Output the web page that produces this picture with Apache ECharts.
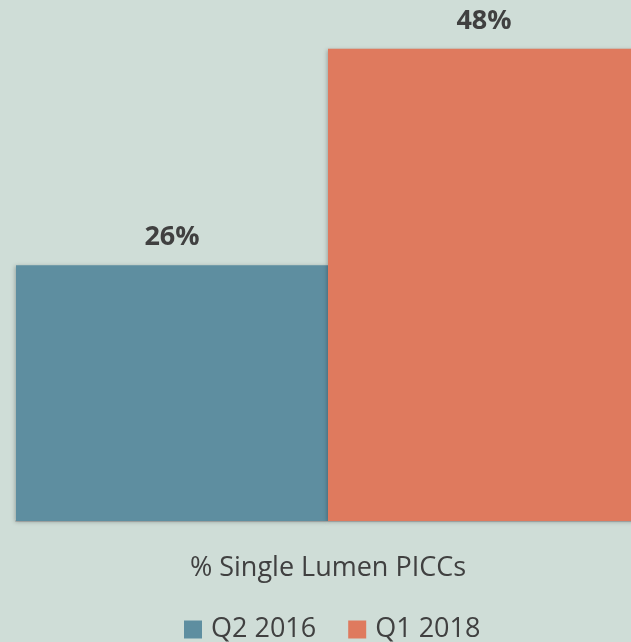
<!DOCTYPE html>
<html><head><meta charset="utf-8">
<script src="https://cdn.jsdelivr.net/npm/echarts@6/dist/echarts.min.js"></script>
<style>html,body{margin:0;padding:0;background:#cfddd7;overflow:hidden;}#c{width:640px;height:642px;}</style>
</head><body><div id="c"></div>
<script>
const categories = ['% Single Lumen PICCs'];
const seriesNames = ['Q2 2016', 'Q1 2018'];
const q2_2016 = [26];
const q1_2018 = [48];
const colors = ['#5e8ea0', '#df7a5e'];
const font = 'Open Sans';
const chart = echarts.init(document.getElementById('c'));
const mk = (name, data, color) => ({
  name, type: 'bar', data, barGap: '0%', barCategoryGap: '0%',
  itemStyle: { color, shadowBlur: 4, shadowColor: 'rgba(0,0,0,0.25)', shadowOffsetX: -1, shadowOffsetY: 1 },
  label: { show: true, position: 'top', distance: 14, formatter: '{c}%', fontFamily: font, fontWeight: 'bold', fontSize: 27, color: '#404040' }
});
chart.setOption({
  backgroundColor: '#cfddd7',
  animation: false,
  grid: { left: 16, right: 0, top: 29, bottom: 121, containLabel: false },
  xAxis: {
    type: 'category', data: categories,
    axisLine: { lineStyle: { color: '#b8bdbb', width: 2 } },
    axisTick: { show: false },
    axisLabel: { margin: 34, fontFamily: font, fontSize: 27, color: '#404040' }
  },
  yAxis: { type: 'value', min: 0, max: 50, show: false, splitLine: { show: false } },
  legend: {
    top: 616, left: 184, padding: 0, itemWidth: 18, itemHeight: 18, itemGap: 32,
    icon: 'rect',
    textStyle: { fontFamily: font, fontSize: 27, color: '#404040', padding: [0, 0, 0, 4] },
    data: seriesNames
  },
  series: [mk(seriesNames[0], q2_2016, colors[0]), mk(seriesNames[1], q1_2018, colors[1])]
});
</script></body></html>
